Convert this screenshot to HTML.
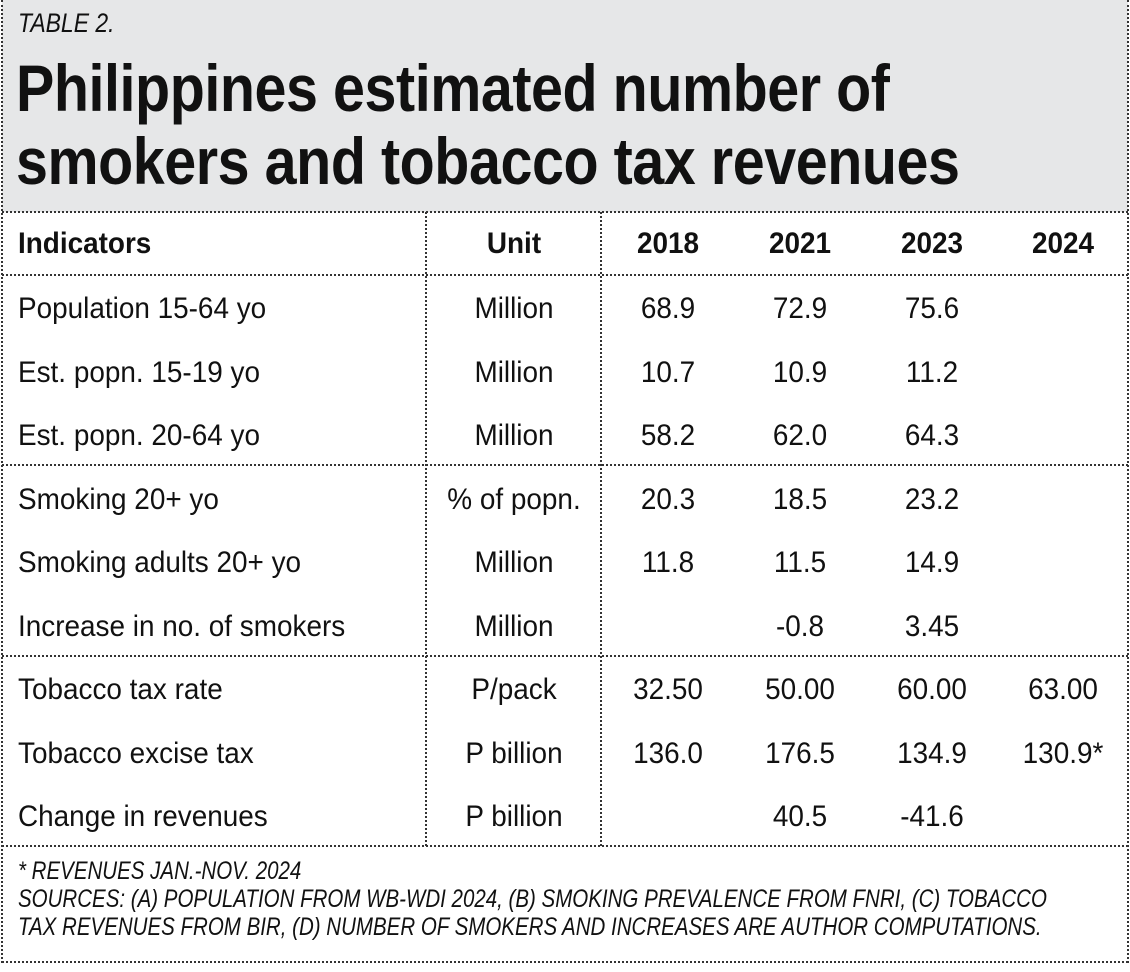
<!DOCTYPE html>
<html><head><meta charset="utf-8"><style>
body{margin:0;width:1130px;height:972px;background:#fff;position:relative;overflow:hidden;font-family:"Liberation Sans",sans-serif;color:#111}
.a{position:absolute;white-space:nowrap}
.hl{position:absolute;left:2px;width:1126px;border-top:2px dotted #333;height:0}
.vl{position:absolute;border-left:2px dotted #333;width:0}
.t{font-size:30px;line-height:36px;transform:scaleX(0.93);transform-origin:left center}
.c{text-align:center;width:160px;transform-origin:center center}
.b{font-weight:bold}
</style></head><body>
<div class="a" style="left:2px;top:0;width:1126px;height:212px;background:#e6e7e8"></div>
<div class="a" style="left:18px;top:8px;font-size:27px;font-style:italic;transform:scaleX(0.85);transform-origin:left">TABLE 2.</div>
<div class="a b" style="left:16px;top:52px;font-size:66px;line-height:73px;letter-spacing:-0.5px;transform:scaleX(0.87);transform-origin:left top">Philippines estimated number of<br>smokers and tobacco tax revenues</div>
<div class="vl" style="left:1px;top:0;height:963px"></div>
<div class="vl" style="left:1127px;top:0;height:963px"></div>
<div class="hl" style="top:211px"></div>
<div class="hl" style="top:274px"></div>
<div class="hl" style="top:464px"></div>
<div class="hl" style="top:655px"></div>
<div class="hl" style="top:845px"></div>
<div class="hl" style="top:961px"></div>
<div class="vl" style="left:425px;top:212px;height:634px"></div>
<div class="vl" style="left:600px;top:212px;height:634px"></div>
<div id="tbl"></div>
<div class="a" style="left:18px;top:857px;font-size:25px;line-height:28px;font-style:italic;transform:scaleX(0.82);transform-origin:left top">* REVENUES JAN.-NOV. 2024<br>SOURCES: (A) POPULATION FROM WB-WDI 2024, (B) SMOKING PREVALENCE FROM FNRI, (C) TOBACCO<br>TAX REVENUES FROM BIR, (D) NUMBER OF SMOKERS AND INCREASES ARE AUTHOR COMPUTATIONS.</div>
<script>
const headers=["Indicators","Unit","2018","2021","2023","2024"];
const indicators=["Population 15-64 yo","Est. popn. 15-19 yo","Est. popn. 20-64 yo","Smoking 20+ yo","Smoking adults 20+ yo","Increase in no. of smokers","Tobacco tax rate","Tobacco excise tax","Change in revenues"];
const units=["Million","Million","Million","% of popn.","Million","Million","P/pack","P billion","P billion"];
const v2018=["68.9","10.7","58.2","20.3","11.8","","32.50","136.0",""];
const v2021=["72.9","10.9","62.0","18.5","11.5","-0.8","50.00","176.5","40.5"];
const v2023=["75.6","11.2","64.3","23.2","14.9","3.45","60.00","134.9","-41.6"];
const v2024=["","","","","","","63.00","130.9*",""];
const tbl=document.getElementById('tbl');
const centers=[514,668,800,932,1063];
function cell(txt,x,y,cls,center){const d=document.createElement('div');


d.className='a t '+cls+(center?' c':'');d.textContent=txt;
d.style.left=(center?x-80:x)+'px';d.style.top=y+'px';tbl.appendChild(d);}
cell(headers[0],18,226,'b',false);
headers.slice(1).forEach((h,i)=>cell(h,centers[i],226,'b',true));
indicators.forEach((ind,r)=>{const y=291+r*63.5;
cell(ind,18,y,'',false);
[units,v2018,v2021,v2023,v2024].forEach((arr,i)=>{if(arr[r])cell(arr[r],centers[i],y,'',true);});});
</script>
</body></html>
